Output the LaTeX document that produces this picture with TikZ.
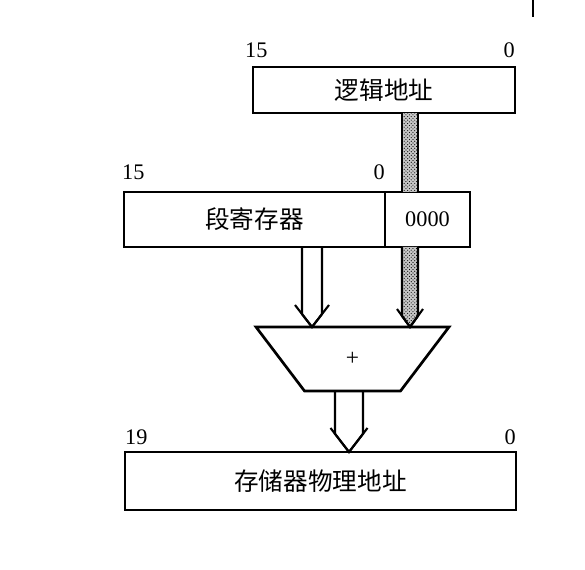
\documentclass[tikz,border=0pt]{standalone}
\usepackage{fontspec}
\setmainfont{Liberation Serif}
\newfontfamily\cjk{Noto Sans CJK SC}
\usetikzlibrary{calc,positioning,patterns}

% hollow block arrow: [fill], from, tip, half shaft, half head, head length
\newcommand{\hollowarrow}[6][]{%
  \draw[barline,#1] let \p1=(#2), \p2=(#3), \n1={#6*#4/#5} in
    (\x1-#4,\y1) -- (\x1-#4,\y2+\n1) -- (\x2,\y2) -- (\x1+#4,\y2+\n1) -- (\x1+#4,\y1);
  \draw[barline] let \p2=(#3) in
    (\x2-#5,\y2+#6) -- (\x2,\y2) -- (\x2+#5,\y2+#6);
}

\begin{document}
\begin{tikzpicture}[
    box/.style={draw, line width=2.3pt, inner sep=0pt, outer sep=0pt,
                font=\fontsize{21}{21}\cjk},
    bitno/.style={inner sep=0pt, font=\fontsize{19}{19}\selectfont},
    barline/.style={line width=1.8pt},
    stipple/.style={preaction={fill=black!22}, pattern=crosshatch dots, pattern color=black}
  ]
    \useasboundingbox (0,0) rectangle (17.55,17.1);

    \node[box, minimum width=7.86cm, minimum height=1.38cm] (logic) at (11.52,14.40) {逻辑地址};
    \node[box, minimum width=7.83cm, minimum height=1.65cm] (seg) at (7.635,10.515) {段寄存器};
    \node[box, minimum width=2.55cm, minimum height=1.65cm,
          font=\fontsize{19}{19}\selectfont, right=0pt of seg] (low) {0000};
    \node[inner sep=0pt, outer sep=0pt, minimum width=5.79cm, minimum height=1.92cm,
          font=\fontsize{20}{20}\selectfont] (adder) at (10.575,6.33) {+};
    \node[box, minimum width=11.73cm, minimum height=1.74cm] (phys) at (9.615,2.67) {存储器物理地址};

    % bit numbers
    \node[bitno, anchor=base west] (logichi) at ($(logic.north west)+(-0.24,0.27)$) {15};
    \node[bitno, anchor=base east] (logiclo) at ($(logic.north east)+(0,0.27)$) {0};
    \node[bitno, anchor=base west] (seghi) at ($(seg.north west)+(-0.06,0.36)$) {15};
    \node[bitno, anchor=base east] (seglo) at ($(seg.north east)+(0,0.36)$) {0};
    \node[bitno, anchor=base west] (physhi) at ($(phys.north west)+(0,0.21)$) {19};
    \node[bitno, anchor=base east] (physlo) at ($(phys.north east)+(0,0.21)$) {0};

    % adder body
    \draw[line width=2.3pt] (adder.north west) -- (adder.north east)
      -- ($(adder.south east)+(-1.455,0)$) -- ($(adder.south west)+(1.455,0)$) -- cycle;

    \coordinate (colseg) at (9.36,0);
    \coordinate (coloff) at (12.30,0);
    \coordinate (colsum) at (10.47,0);

    % offset bus through the segment register
    \fill[stipple] ($(coloff |- logic.south)+(-0.24,0)$) rectangle ($(coloff |- low.north)+(0.24,0)$);
    \draw[barline] ($(coloff |- logic.south)+(-0.24,0)$) -- ($(coloff |- low.north)+(-0.24,0)$);
    \draw[barline] ($(coloff |- logic.south)+(0.24,0)$) -- ($(coloff |- low.north)+(0.24,0)$);

    \hollowarrow{colseg |- seg.south}{colseg |- adder.north}{0.30cm}{0.51cm}{0.66cm}
    \hollowarrow[stipple]{coloff |- low.south}{coloff |- adder.north}{0.24cm}{0.39cm}{0.54cm}
    \hollowarrow{colsum |- adder.south}{colsum |- phys.north}{0.42cm}{0.555cm}{0.72cm}

    \draw[line width=1.5pt] (15.99,17.1) -- (15.99,16.59);
\end{tikzpicture}
\end{document}
